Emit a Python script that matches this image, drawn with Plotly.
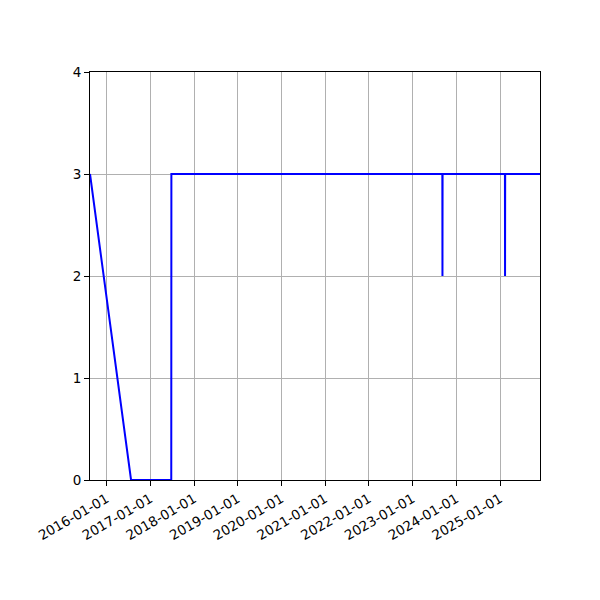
import plotly.graph_objects as go

# readings
dates = ["2015-08-16", "2016-07-24", "2017-06-25", "2017-06-26",
         "2023-09-07", "2023-09-08", "2023-09-09",
         "2025-02-11", "2025-02-12", "2025-02-13", "2025-12-01"]
values = [3, 0, 0, 3, 3, 2, 3, 3, 2, 3, 3]

tick_dates = ["%d-01-01" % y for y in range(2016, 2026)]
y_ticks = [0, 1, 2, 3, 4]

fig = go.Figure()
fig.add_trace(go.Scatter(x=dates, y=values, mode="lines",
                         line=dict(color="#0000ff", width=2)))

axis_style = dict(showline=True, linecolor="black", linewidth=1, mirror=True,
                  showgrid=True, gridcolor="#b0b0b0", gridwidth=1,
                  ticks="outside", ticklen=5, tickcolor="black",
                  zeroline=False, tickfont=dict(size=13.5, color="black"))

fig.update_xaxes(range=["2015-08-16", "2025-12-01"], tickvals=tick_dates,
                 tickformat="%Y-%m-%d", tickangle=-30, **axis_style)
fig.update_yaxes(range=[0, 4], tickvals=y_ticks, **axis_style)

# the page puts the figure 8px in, so margins are pulled back by that
fig.update_layout(width=600, height=600, showlegend=False,
                  margin=dict(l=82, r=68, t=64, b=128),
                  plot_bgcolor="white", paper_bgcolor="white",
                  font=dict(family="DejaVu Sans", color="black"))

fig.write_html("out.html")
